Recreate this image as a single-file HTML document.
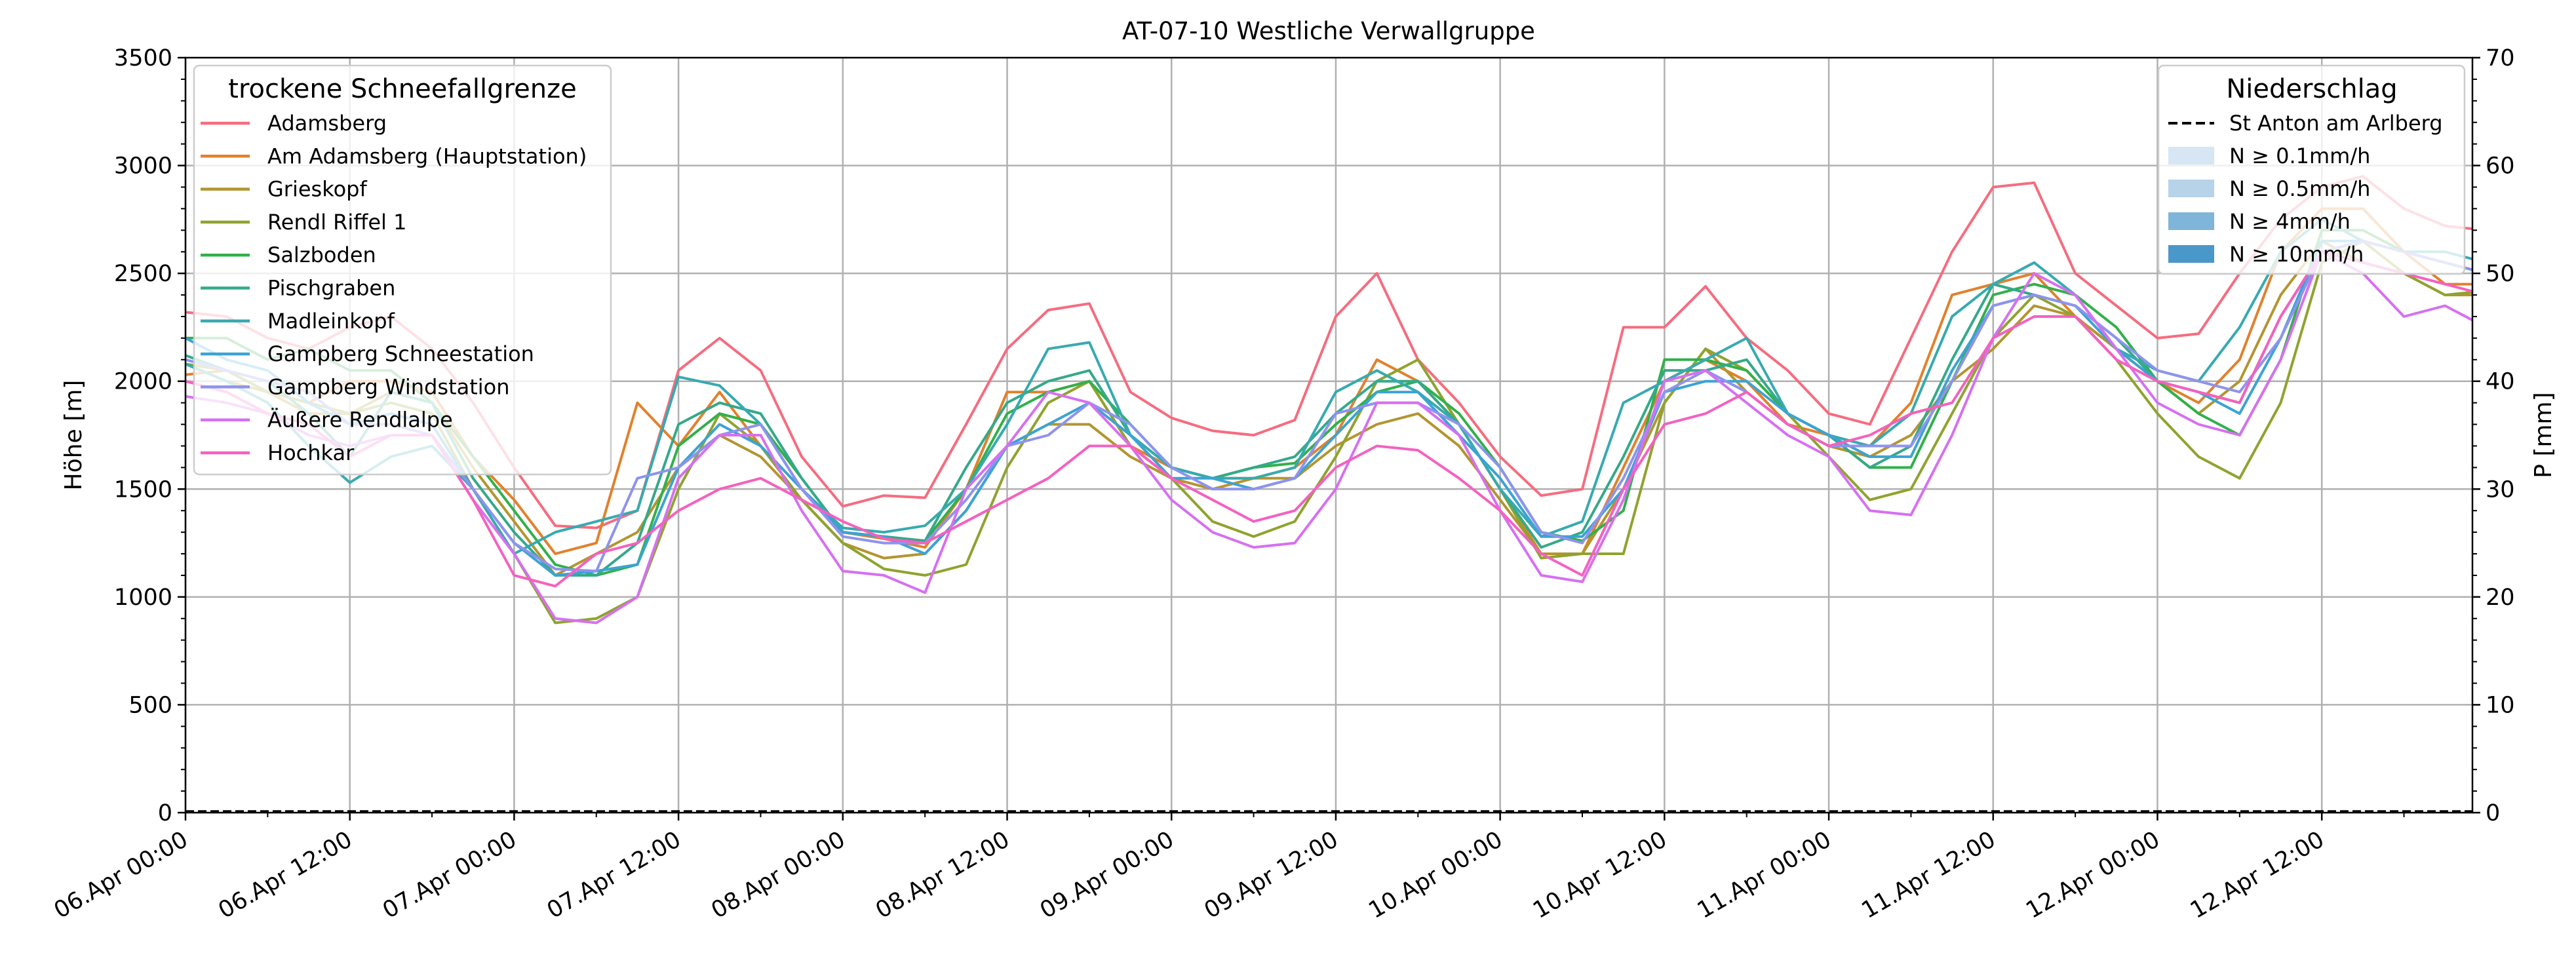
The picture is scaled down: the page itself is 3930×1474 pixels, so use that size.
<!DOCTYPE html>
<html><head><meta charset="utf-8">
<style>
html,body{margin:0;padding:0;background:#fff;}
svg{display:block;font-family:"DejaVu Sans","Liberation Sans",sans-serif;}
</style></head>
<body>
<svg id="chart" width="3930" height="1474" viewBox="0 0 3930 1474" xmlns="http://www.w3.org/2000/svg">
<rect width="3930" height="1474" fill="#fff"/>
<text x="2027" y="60" font-size="37" text-anchor="middle">AT-07-10 Westliche Verwallgruppe</text>
<g id="grid"></g>
<g id="series"></g>
<line x1="283" y1="1238" x2="3772" y2="1238" stroke="#000" stroke-width="3.5" stroke-dasharray="13,6"/>
<rect x="283" y="88" width="3489" height="1152" fill="none" stroke="#000" stroke-width="2.5"/>
<g id="axes"></g>
<text x="124" y="664" font-size="36" text-anchor="middle" transform="rotate(-90 124 664)">Höhe [m]</text>
<text x="3892" y="664" font-size="36" text-anchor="middle" transform="rotate(-90 3892 664)">P [mm]</text>

<g>
<rect x="296" y="100" width="636" height="624" rx="8" fill="#fff" fill-opacity="0.8" stroke="#ccc" stroke-width="2.5"/>
<text x="614" y="149" font-size="40" text-anchor="middle">trockene Schneefallgrenze</text>
<g id="leg1"></g>
</g>

<g>
<rect x="3293" y="100" width="467" height="318" rx="8" fill="#fff" fill-opacity="0.8" stroke="#ccc" stroke-width="2.5"/>
<text x="3527" y="149" font-size="40" text-anchor="middle">Niederschlag</text>
<line x1="3308" y1="188" x2="3378" y2="188" stroke="#000" stroke-width="4" stroke-dasharray="14,7"/>
<text x="3401" y="199" font-size="32">St Anton am Arlberg</text>
<rect x="3308" y="224" width="70" height="27" fill="#d6e6f4"/>
<text x="3401" y="249" font-size="32">N ≥ 0.1mm/h</text>
<rect x="3308" y="274" width="70" height="27" fill="#b6d3e9"/>
<text x="3401" y="299" font-size="32">N ≥ 0.5mm/h</text>
<rect x="3308" y="324" width="70" height="27" fill="#7fb5d8"/>
<text x="3401" y="349" font-size="32">N ≥ 4mm/h</text>
<rect x="3308" y="374" width="70" height="27" fill="#4a97c9"/>
<text x="3401" y="399" font-size="32">N ≥ 10mm/h</text>
</g>
</svg>
<script>
const stationNames = ["Adamsberg","Am Adamsberg (Hauptstation)","Grieskopf","Rendl Riffel 1","Salzboden","Pischgraben","Madleinkopf","Gampberg Schneestation","Gampberg Windstation","Äußere Rendlalpe","Hochkar"];
const stationColors = ["#f66c7f","#e1812c","#b39530","#8fa32f","#32b04b","#35a98a","#37aab0","#3ba3d4","#8e93ee","#d670f0","#f461c0"];
const stepHours = 3;
const xTickLabels = ["06.Apr 00:00","06.Apr 12:00","07.Apr 00:00","07.Apr 12:00","08.Apr 00:00","08.Apr 12:00","09.Apr 00:00","09.Apr 12:00","10.Apr 00:00","10.Apr 12:00","11.Apr 00:00","11.Apr 12:00","12.Apr 00:00","12.Apr 12:00"];
const yTicks = [0,500,1000,1500,2000,2500,3000,3500];
const y2Ticks = [0,10,20,30,40,50,60,70];
const sAdamsberg = [2320,2300,2200,2150,2250,2300,2150,1900,1600,1330,1320,1400,2050,2200,2050,1650,1420,1470,1460,1800,2150,2330,2360,1950,1830,1770,1750,1820,2300,2500,2100,1900,1650,1470,1500,2250,2250,2440,2200,2050,1850,1800,2200,2600,2900,2920,2500,2350,2200,2220,2500,2750,2900,2950,2800,2720,2700];
const sAmAdamsberg = [2030,2050,1950,1900,2000,2000,1950,1650,1450,1200,1250,1900,1700,1950,1700,1500,1300,1270,1230,1500,1950,1950,2000,1700,1600,1550,1550,1600,1750,2100,2000,1800,1500,1200,1200,1600,2000,2100,2000,1800,1750,1700,1900,2400,2450,2500,2300,2150,2000,1900,2100,2600,2800,2800,2600,2450,2450];
const sGrieskopf = [2080,2000,1950,1850,1850,1950,1900,1600,1350,1100,1200,1300,1600,1750,1650,1450,1250,1180,1200,1400,1700,1800,1800,1650,1550,1500,1550,1550,1700,1800,1850,1700,1450,1200,1200,1500,1900,2150,1950,1800,1700,1650,1750,2000,2150,2350,2300,2150,2000,1850,2000,2400,2650,2550,2500,2400,2400];
const sRendl = [2080,2050,1950,1900,1850,1900,1850,1500,1200,880,900,1000,1500,1850,1700,1450,1250,1130,1100,1150,1600,1900,2000,1700,1550,1350,1280,1350,1650,2000,2100,1800,1500,1180,1200,1200,1900,2150,2050,1850,1650,1450,1500,1850,2200,2400,2300,2100,1850,1650,1550,1900,2550,2650,2500,2400,2420];
const sSalzboden = [2200,2200,2100,2150,2050,2050,1900,1650,1400,1150,1100,1150,1700,1850,1800,1550,1300,1280,1260,1500,1850,1950,2000,1800,1600,1550,1600,1620,1800,1950,2000,1850,1600,1300,1260,1400,2100,2100,2050,1850,1750,1600,1600,2000,2400,2450,2400,2250,2000,1850,1750,2100,2700,2700,2600,2550,2500];
const sPischgraben = [2120,2050,2000,1850,1650,1950,1900,1550,1300,1100,1100,1250,1800,1900,1850,1550,1300,1280,1260,1600,1900,2000,2050,1750,1600,1550,1600,1650,1850,2000,2000,1800,1500,1230,1300,1650,2050,2050,2100,1850,1750,1600,1700,2100,2450,2400,2350,2200,2000,1950,1900,2300,2600,2650,2600,2550,2500];
const sMadleinkopf = [2080,2000,1900,1700,1530,1650,1700,1500,1200,1300,1350,1400,2020,1980,1800,1500,1320,1300,1330,1500,1800,2150,2180,1750,1600,1550,1550,1600,1950,2050,1950,1800,1500,1280,1350,1900,2000,2100,2200,1850,1750,1700,1850,2300,2450,2550,2400,2150,2050,2000,2250,2600,2750,2650,2600,2600,2550];
const sGampSchnee = [2200,2100,2050,1900,1800,1850,1800,1500,1250,1100,1120,1150,1600,1800,1700,1500,1300,1280,1200,1400,1700,1800,1900,1750,1550,1550,1500,1550,1750,1950,1950,1750,1550,1280,1280,1500,1950,2000,2000,1850,1750,1650,1650,2050,2350,2400,2350,2150,2000,1950,1850,2200,2650,2650,2600,2550,2500];
const sGampWind = [2100,2050,2000,1950,1800,1800,1750,1500,1250,1130,1120,1550,1600,1750,1800,1500,1280,1250,1250,1450,1700,1750,1900,1800,1600,1500,1500,1550,1850,1900,1900,1800,1600,1300,1250,1550,1950,2050,1950,1800,1700,1700,1700,2000,2350,2400,2350,2200,2050,2000,1950,2200,2600,2650,2600,2550,2500];
const sRendlalpe = [1930,1900,1850,1750,1700,1750,1750,1450,1200,900,880,1000,1550,1750,1750,1400,1120,1100,1020,1500,1700,1950,1900,1700,1450,1300,1230,1250,1500,1900,1900,1750,1400,1100,1070,1450,2000,2050,1900,1750,1650,1400,1380,1750,2200,2500,2400,2150,1900,1800,1750,2100,2600,2500,2300,2350,2250];
const sHochkar = [2000,1950,1850,1800,1650,1750,1750,1450,1100,1050,1200,1250,1400,1500,1550,1450,1350,1270,1250,1350,1450,1550,1700,1700,1550,1450,1350,1400,1600,1700,1680,1550,1400,1200,1100,1500,1800,1850,1950,1800,1700,1750,1850,1900,2200,2300,2300,2100,2000,1950,1900,2300,2600,2550,2500,2450,2400];
const seriesValues = [sAdamsberg,sAmAdamsberg,sGrieskopf,sRendl,sSalzboden,sPischgraben,sMadleinkopf,sGampSchnee,sGampWind,sRendlalpe,sHochkar];

const NS="http://www.w3.org/2000/svg";
const L=283,R=3772,T=88,B=1240,HMAX=167,YMAX=3500,PMAX=70;
const xs=h=>L+(R-L)*h/HMAX;
const ys=v=>B-(B-T)*v/YMAX;
const ys2=p=>B-(B-T)*p/PMAX;
function mk(tag,attrs,parent){const e=document.createElementNS(NS,tag);for(const k in attrs)e.setAttribute(k,attrs[k]);parent.appendChild(e);return e;}
const grid=document.getElementById('grid'),axes=document.getElementById('axes'),ser=document.getElementById('series'),leg=document.getElementById('leg1');

xTickLabels.forEach((lab,i)=>{
  const x=xs(i*12);
  const g=mk('line',{x1:x,y1:T,x2:x,y2:B,stroke:'#b0b0b0','stroke-width':2.5},grid);
  
  
  mk('line',{x1:x,y1:B,x2:x,y2:B+12,stroke:'#000','stroke-width':2.5},axes);
  const t=mk('text',{x:x+6,y:B+48,'font-size':35,'text-anchor':'end',transform:`rotate(-30 ${x+6} ${B+48})`},axes);
  t.textContent=lab;
  
  
});
for(let h=6;h<=HMAX;h+=12){const x=xs(h);mk('line',{x1:x,y1:B,x2:x,y2:B+7,stroke:'#000','stroke-width':2},axes);}
yTicks.forEach(v=>{
  const y=ys(v);
  if(v>0&&v<YMAX){const g=mk('line',{x1:L,y1:y,x2:R,y2:y,stroke:'#b0b0b0','stroke-width':2.5},grid);
    
    }
  mk('line',{x1:L-12,y1:y,x2:L,y2:y,stroke:'#000','stroke-width':2.5},axes);
  const t=mk('text',{x:L-20,y:y+12,'font-size':35,'text-anchor':'end'},axes);
  t.textContent=v;
  
  
});
for(let v=100;v<YMAX;v+=100){if(v%500)mk('line',{x1:L-7,y1:ys(v),x2:L,y2:ys(v),stroke:'#000','stroke-width':2},axes);}
y2Ticks.forEach(p=>{
  const y=ys2(p);
  mk('line',{x1:R,y1:y,x2:R+12,y2:y,stroke:'#000','stroke-width':2.5},axes);
  const t=mk('text',{x:R+20,y:y+12,'font-size':35,'text-anchor':'start'},axes);
  t.textContent=p;
  
  
});
for(let p=2;p<PMAX;p+=2){if(p%10)mk('line',{x1:R,y1:ys2(p),x2:R+7,y2:ys2(p),stroke:'#000','stroke-width':2},axes);}

mk('clipPath',{id:'clip'},document.getElementById('chart')).appendChild(document.createElementNS(NS,'rect'));
const cr=document.querySelector('#clip rect');cr.setAttribute('x',L);cr.setAttribute('y',T);cr.setAttribute('width',R-L);cr.setAttribute('height',B-T);
ser.setAttribute('clip-path','url(#clip)');

seriesValues.forEach((vals,i)=>{
  const d=vals.map((v,j)=>(j?'L':'M')+xs(j*stepHours).toFixed(1)+','+ys(v).toFixed(1)).join(' ');
  const p=mk('path',{d:d,fill:'none',stroke:stationColors[i],'stroke-width':4,'stroke-linejoin':'round'},ser);
  
  
  const y=188+i*50.3;
  mk('line',{x1:306,y1:y,x2:381,y2:y,stroke:stationColors[i],'stroke-width':4.5},leg);
  const t=mk('text',{x:408,y:y+11,'font-size':32},leg);
  t.textContent=stationNames[i];
  
  
});
</script>
</body></html>
